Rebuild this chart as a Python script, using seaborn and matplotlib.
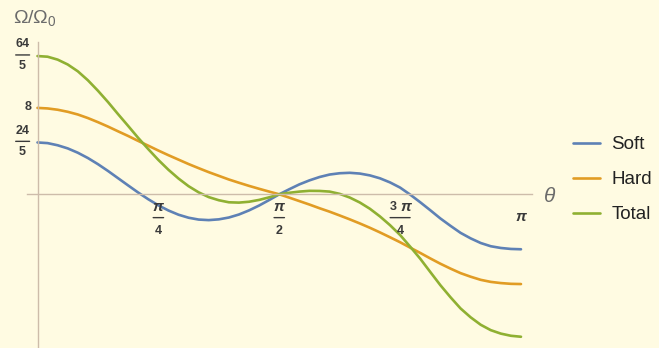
import numpy as np
import pandas as pd
import matplotlib
matplotlib.use("Agg")
import matplotlib.pyplot as plt
from matplotlib.transforms import offset_copy
import seaborn as sns

# Angle grid (radians), steps of pi/48 from 0 to pi
theta = np.linspace(0, np.pi, 49)

soft = [4.80, 4.74, 4.54, 4.25, 3.85, 3.36, 2.79, 2.16, 1.49, 0.82, 0.16, -0.46, -1.02,
        -1.50, -1.89, -2.17, -2.34, -2.39, -2.32, -2.15, -1.87, -1.49, -1.04, -0.53, 0.00,
        0.47, 0.92, 1.29, 1.60, 1.83, 1.95, 1.99, 1.92, 1.75, 1.48, 1.10, 0.62, -0.03,
        -0.74, -1.48, -2.24, -2.92, -3.57, -4.08, -4.51, -4.81, -4.97, -5.06, -5.09]
hard = [8.00, 7.95, 7.83, 7.64, 7.39, 7.06, 6.68, 6.27, 5.83, 5.40, 4.94, 4.50, 4.05,
        3.62, 3.21, 2.80, 2.42, 2.05, 1.71, 1.37, 1.07, 0.78, 0.51, 0.25, 0.00,
        -0.31, -0.63, -0.95, -1.29, -1.61, -1.96, -2.32, -2.70, -3.10, -3.53, -3.98, -4.44,
        -4.94, -5.43, -5.94, -6.43, -6.88, -7.30, -7.63, -7.92, -8.11, -8.22, -8.29, -8.31]
total = [12.80, 12.74, 12.47, 12.02, 11.39, 10.56, 9.59, 8.54, 7.42, 6.33, 5.22, 4.18, 3.18,
         2.27, 1.46, 0.75, 0.18, -0.26, -0.55, -0.74, -0.77, -0.69, -0.52, -0.28, 0.00,
         0.14, 0.25, 0.32, 0.31, 0.25, 0.04, -0.30, -0.76, -1.34, -2.05, -2.86, -3.77,
         -4.85, -5.97, -7.20, -8.42, -9.53, -10.57, -11.39, -12.08, -12.58, -12.90, -13.10, -13.19]

series_names = ["Soft", "Hard", "Total"]
series_colors = ["#5E81B5", "#E19C24", "#8FB032"]

# tick positions and their labels as (numerator, denominator) pairs
y_ticks = [64 / 5, 8, 24 / 5]
y_tick_labels = [("64", "5"), ("8", None), ("24", "5")]
x_ticks = [np.pi / 4, np.pi / 2, 3 * np.pi / 4, np.pi]
x_tick_labels = [("π", "4"), ("π", "2"), ("3 π", "4"), ("π", None)]

df = pd.concat([
    pd.DataFrame({"theta": theta, "value": vals, "series": name})
    for name, vals in zip(series_names, [soft, hard, total])
], ignore_index=True)

sns.set_style("white")
bg = "#FFFBE2"
axis_col = "#CDBCAA"
lab_col = "#3a3a3a"
plt.rcParams.update({
    "font.family": ["Liberation Sans", "DejaVu Sans"],
    "mathtext.fontset": "custom",
    "mathtext.rm": "Liberation Sans",
    "mathtext.it": "Liberation Sans:italic",
    "mathtext.bf": "Liberation Sans:bold",
})

W, H = 659, 348
fig = plt.figure(figsize=(W / 100, H / 100), dpi=100, facecolor=bg)
# axes frame: y-axis line at x=0 runs to the top, x-axis line at y=0
left_px, right_px, top_px = 27, 531.7, 41.7
ax = fig.add_axes([left_px / W, 0, (right_px - left_px) / W, (H - top_px) / H])
ax.set_facecolor(bg)

sns.lineplot(data=df, x="theta", y="value", hue="series", hue_order=series_names,
             palette=series_colors, linewidth=1.9, errorbar=None, ax=ax)

x0_px, xpi_px, y0_px, unit_px = 37.5, 521.0, 194.3, 10.8
ax.set_xlim((left_px - x0_px) / (xpi_px - x0_px) * np.pi,
            (right_px - x0_px) / (xpi_px - x0_px) * np.pi)
ax.set_ylim((y0_px - H) / unit_px, (y0_px - top_px) / unit_px)

for s in ["top", "right"]:
    ax.spines[s].set_visible(False)
ax.spines["left"].set_position(("data", 0))
ax.spines["bottom"].set_position(("data", 0))
for s in ["left", "bottom"]:
    ax.spines[s].set_color(axis_col)
    ax.spines[s].set_linewidth(1.0)

ax.set_xticks(x_ticks)
ax.set_yticks(y_ticks)
ax.tick_params(axis="both", direction="in", length=3, width=0.8, color=axis_col,
               labelbottom=False, labelleft=False)
ax.set_xlabel("")
ax.set_ylabel("")


def put(txt, x, y, dx, dy, size):
    """Place a piece of a tick label at an offset (points) from a data point."""
    style = "italic" if "π" in txt else "normal"
    ax.annotate(txt, xy=(x, y), xycoords="data", xytext=(dx, dy),
                textcoords="offset points", ha="center", va="center",
                fontsize=size, fontweight="bold", fontstyle=style, color=lab_col,
                annotation_clip=False)


def bar(x, y, dx, dy, width):
    """Fraction bar of the given width (points) centred at an offset from a data point."""
    tr = offset_copy(ax.transData, fig=fig, x=dx - width / 2, y=dy, units="points")
    ax.annotate("", xy=(x, y), xycoords=tr, xytext=(width, 0), textcoords="offset points",
                arrowprops=dict(arrowstyle="-", lw=1.0, color=lab_col,
                                shrinkA=0, shrinkB=0),
                annotation_clip=False)


digit_size, pi_size = 9, 11

# y tick labels, left of the vertical axis
for val, (num, den) in zip(y_ticks, y_tick_labels):
    if den is None:
        put(num, 0, val, -6.5, 0.3, digit_size)
    else:
        put(num, 0, val, -10.7, 8.6, digit_size)
        bar(0, val, -10.7, 0.8, 10.0)
        put(den, 0, val, -10.7, -7.0, digit_size)

# x tick labels, below the horizontal axis
for val, (num, den) in zip(x_ticks, x_tick_labels):
    if den is None:
        put(num, val, 0, 0, -16.0, pi_size)
        continue
    if num == "3 π":
        put("3", val, 0, -5.0, -9.0, digit_size)
        put("π", val, 0, 4.0, -9.0, pi_size)
        bar(val, 0, 0, -16.8, 14.4)
    else:
        put(num, val, 0, 0, -9.0, pi_size)
        bar(val, 0, 0, -16.8, 7.5)
    put(den, val, 0, 0, -26.4, digit_size)

fig.text(12.7 / W, 1 - 18 / H, r"$\Omega/\Omega_0$", fontsize=14, color="#6b6b6b",
         ha="left", va="center")
fig.text(550 / W, 1 - 196.7 / H, r"$\theta$", fontsize=15, color="#6b6b6b",
         ha="center", va="center")

handles, labels = ax.get_legend_handles_labels()
leg = ax.legend(handles, labels, loc="center left", bbox_to_anchor=(572.7 / W, 1 - 179.7 / H),
                bbox_transform=fig.transFigure, frameon=False, fontsize=13.5,
                handlelength=1.45, handletextpad=0.6, labelspacing=0.95, borderpad=0,
                borderaxespad=0)
for t in leg.get_texts():
    t.set_color("#222222")

fig.savefig("out.png", dpi=100, facecolor=bg)
